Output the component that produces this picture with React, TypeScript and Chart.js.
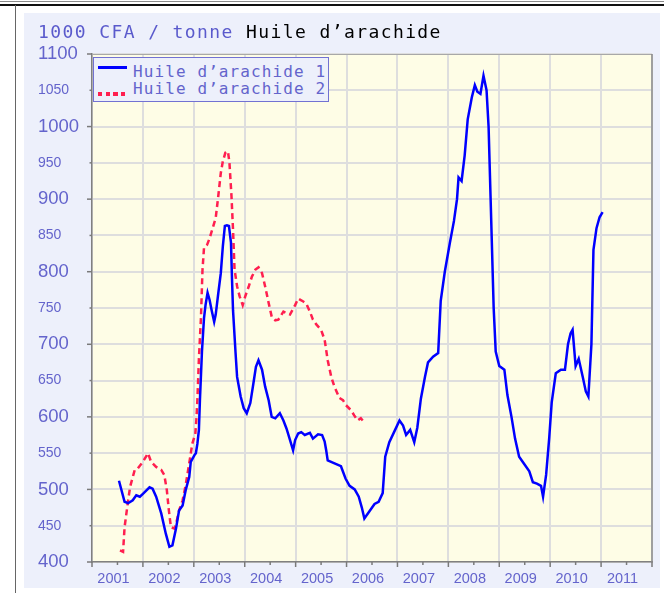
import React, { useEffect, useRef } from "react";
import { Chart, registerables } from "chart.js";

Chart.register(...registerables);

// ---------- data ----------
const seriesNames = ["Huile d’arachide 1", "Huile d’arachide 2"];
const yearLabels = [2001, 2002, 2003, 2004, 2005, 2006, 2007, 2008, 2009, 2010, 2011];
const yMin = 400;
const yMax = 1100;
const yStep = 50;

const blueDates = [
  2001.53, 2001.64, 2001.71, 2001.80, 2001.87, 2001.94, 2002.00, 2002.13, 2002.19, 2002.26,
  2002.36, 2002.45, 2002.52, 2002.58, 2002.65, 2002.71, 2002.78, 2002.84, 2002.91, 2002.94,
  2003.01, 2003.04, 2003.07, 2003.10, 2003.12, 2003.16, 2003.20, 2003.23, 2003.27, 2003.31,
  2003.35, 2003.40, 2003.43, 2003.48, 2003.53, 2003.57, 2003.61, 2003.65, 2003.69, 2003.73,
  2003.75, 2003.77, 2003.82, 2003.85, 2003.92, 2003.98, 2004.04, 2004.11, 2004.17, 2004.22,
  2004.27, 2004.34, 2004.40, 2004.47, 2004.53, 2004.60, 2004.69, 2004.76, 2004.82, 2004.89,
  2004.95, 2004.99, 2005.05, 2005.11, 2005.18, 2005.28, 2005.34, 2005.44, 2005.52, 2005.57,
  2005.60, 2005.63, 2005.73, 2005.89, 2005.98, 2006.06, 2006.16, 2006.24, 2006.30, 2006.35,
  2006.45, 2006.55, 2006.63, 2006.71, 2006.76, 2006.84, 2006.94, 2007.04, 2007.11, 2007.17,
  2007.25, 2007.33, 2007.39, 2007.46, 2007.54, 2007.60, 2007.70, 2007.80, 2007.85, 2007.93,
  2008.03, 2008.11, 2008.17, 2008.20, 2008.26, 2008.32, 2008.38, 2008.46, 2008.52, 2008.57,
  2008.63, 2008.69, 2008.75, 2008.79, 2008.83, 2008.89, 2008.93, 2009.00, 2009.10, 2009.16,
  2009.24, 2009.31, 2009.39, 2009.49, 2009.59, 2009.66, 2009.74, 2009.82, 2009.86, 2009.92,
  2009.98, 2010.03, 2010.11, 2010.21, 2010.29, 2010.35, 2010.40, 2010.44, 2010.50, 2010.56,
  2010.64, 2010.70, 2010.75, 2010.81, 2010.85, 2010.91, 2010.97, 2011.03,
];
const blueValues = [
  512, 483, 481, 485, 492, 490, 494, 503, 501, 490,
  467, 439, 421, 423, 446, 471, 478, 499, 517, 538,
  547, 550, 563, 582, 623, 690, 736, 754, 771, 761,
  747, 731, 741, 770, 798, 835, 863, 864, 863, 840,
  790, 747, 688, 655, 628, 612, 605, 619, 646, 669,
  678, 665, 642, 623, 600, 598, 605, 595, 584, 568,
  554, 568, 577, 579, 575, 578, 570, 576, 575, 566,
  554, 540, 537, 532, 515, 505, 500, 490, 475, 460,
  470, 480, 483, 495, 545, 565, 580, 595, 588, 575,
  582, 565, 585, 625, 655, 675, 683, 688, 760, 800,
  840, 870, 900, 930, 925, 960, 1010, 1040, 1057, 1048,
  1045, 1070, 1050, 1000, 900, 750, 690, 670, 665, 630,
  600, 570, 545, 535, 525, 510, 508, 505, 490, 520,
  570, 620, 660, 665, 665, 700, 715, 720, 670, 680,
  655, 635, 628, 700, 830, 860, 875, 882,
];

const redDates = [
  2001.55, 2001.61, 2001.64, 2001.71, 2001.75, 2001.84, 2001.90, 2002.00, 2002.10, 2002.16,
  2002.26, 2002.36, 2002.42, 2002.47, 2002.51, 2002.55, 2002.62, 2002.66, 2002.71, 2002.78,
  2002.84, 2002.91, 2002.97, 2003.03, 2003.05, 2003.07, 2003.10, 2003.14, 2003.17, 2003.20,
  2003.26, 2003.31, 2003.40, 2003.43, 2003.48, 2003.53, 2003.57, 2003.62, 2003.67, 2003.70,
  2003.74, 2003.77, 2003.80, 2003.85, 2003.90, 2003.96, 2004.01, 2004.08, 2004.14, 2004.21,
  2004.27, 2004.34, 2004.40, 2004.47, 2004.53, 2004.60, 2004.66, 2004.76, 2004.82, 2004.89,
  2004.99, 2005.05, 2005.15, 2005.21, 2005.28, 2005.34, 2005.41, 2005.50, 2005.57, 2005.63,
  2005.70, 2005.76, 2005.86, 2005.93, 2005.99, 2006.09, 2006.15, 2006.22, 2006.28, 2006.34,
];
const redValues = [
  416, 414, 448, 485, 504, 527, 529, 538, 550, 538,
  531, 527, 520, 499, 471, 448, 446, 455, 471, 485,
  506, 536, 563, 577, 596, 623, 680, 736, 802, 833,
  837, 846, 867, 874, 904, 936, 952, 964, 966, 950,
  904, 858, 803, 780, 766, 754, 766, 780, 793, 803,
  806, 798, 780, 757, 738, 733, 734, 745, 743, 741,
  754, 763, 759, 756, 745, 734, 727, 720, 706, 678,
  655, 642, 626, 623, 616, 609, 602, 595, 598, 593,
];

// ---------- styles ----------
const LABEL = "#6464cc";
const BLUE = "#0000ff";
const RED = "#ff1f4f";
const PANEL = "#edf0fb";
const PLOT_BG = "#fefde6";
const GRID = "#dedede";
const AXIS = "#808080";
const SANS = '"Liberation Sans", Arial, sans-serif';
const MONO = '"DejaVu Sans Mono", monospace';

const toPoints = (xs: number[], ys: number[]) => xs.map((x, i) => ({ x, y: ys[i] }));

const framePlugin = {
  id: "frame",
  beforeDraw(chart: any) {
    const { ctx, chartArea: a } = chart;
    ctx.save();
    ctx.fillStyle = PLOT_BG;
    ctx.fillRect(a.left, a.top, a.right - a.left, a.bottom - a.top);
    ctx.restore();
  },
  afterDraw(chart: any) {
    const { ctx, chartArea: a, scales } = chart;
    ctx.save();
    ctx.strokeStyle = "#a8a8a8";
    ctx.lineWidth = 1;
    ctx.beginPath();
    ctx.moveTo(a.left, a.top + 0.5);
    ctx.lineTo(a.right, a.top + 0.5);
    ctx.stroke();
    ctx.strokeStyle = "#8a8a8a";
    ctx.lineWidth = 1.5;
    ctx.beginPath();
    ctx.moveTo(a.right, a.top);
    ctx.lineTo(a.right, a.bottom);
    ctx.stroke();
    ctx.strokeStyle = "#7a7a7a";
    ctx.lineWidth = 1.5;
    for (const t of scales.y.ticks) {
      const p = scales.y.getPixelForValue(t.value);
      const len = t.value % 100 === 0 ? 5 : 2.5;
      ctx.beginPath();
      ctx.moveTo(a.left - len, p);
      ctx.lineTo(a.left, p);
      ctx.stroke();
    }
    for (const t of scales.x.ticks) {
      const p = scales.x.getPixelForValue(t.value);
      const len = Number.isInteger(t.value) ? 5 : 3;
      ctx.beginPath();
      ctx.moveTo(p, a.bottom);
      ctx.lineTo(p, a.bottom + len);
      ctx.stroke();
    }
    ctx.restore();
  },
};

function PriceChart() {
  const ref = useRef<HTMLCanvasElement | null>(null);
  useEffect(() => {
    if (!ref.current) return;
    const chart = new Chart(ref.current, {
      type: "line",
      data: {
        datasets: [
          {
            label: seriesNames[0],
            data: toPoints(blueDates, blueValues),
            borderColor: BLUE,
            borderWidth: 2.5,
            pointRadius: 0,
            fill: false,
            tension: 0,
          },
          {
            label: seriesNames[1],
            data: toPoints(redDates, redValues),
            borderColor: RED,
            borderWidth: 2.5,
            borderDash: [6, 4],
            pointRadius: 0,
            fill: false,
            tension: 0,
          },
        ],
      },
      options: {
        responsive: false,
        animation: false,
        events: [],
        layout: { padding: { left: 14, top: 41, right: 3, bottom: 0 } },
        plugins: { legend: { display: false }, tooltip: { enabled: false }, title: { display: false } },
        scales: {
          x: {
            type: "linear",
            min: yearLabels[0],
            max: yearLabels[yearLabels.length - 1] + 1,
            ticks: {
              stepSize: 0.5,
              autoSkip: false,
              maxRotation: 0,
              color: LABEL,
              font: { family: SANS, size: 14.5 },
              padding: 8,
              labelOffset: -4,
              callback: (v: any) => {
                const n = Number(v);
                if (Number.isInteger(n)) return "";
                const y = Math.floor(n);
                return yearLabels.includes(y) ? String(y) : "";
              },
            },
            grid: {
              color: (c: any) => (c.tick && Number.isInteger(c.tick.value) ? GRID : "rgba(0,0,0,0)"),
              lineWidth: 2,
              drawTicks: false,
            },
            border: { display: true, color: AXIS, width: 1.5 },
            afterFit: (s: any) => {
              s.height = 26;
            },
          },
          y: {
            min: yMin,
            max: yMax,
            ticks: {
              stepSize: yStep,
              color: LABEL,
              crossAlign: "far",
              padding: 0,
              callback: (v: any) => String(v),
              font: (c: any) => ({
                family: SANS,
                size: c.tick && c.tick.value % 100 === 0 ? 18.5 : 14,
              }),
            },
            grid: { color: GRID, lineWidth: 2, drawTicks: false },
            border: { display: true, color: AXIS, width: 1.5 },
            afterFit: (s: any) => {
              s.width = 54;
            },
          },
        },
      } as any,
      plugins: [framePlugin],
    });
    return () => chart.destroy();
  }, []);
  return <canvas ref={ref} width={636} height={575} style={{ position: "absolute", left: 0, top: 0, width: 636, height: 575 }} />;
}

export default function App() {
  return (
    <div style={{ position: "fixed", left: 0, top: 0, width: 664, height: 593, background: "#fff", overflow: "hidden" }}>
      <div style={{ position: "absolute", left: 0, top: 1, width: 664, height: 1, background: "#8a8a8a" }} />
      <div style={{ position: "absolute", left: 0, top: 4, width: 664, height: 1.5, background: "#111" }} />
      <div style={{ position: "absolute", left: 15, top: 5, width: 1.3, height: 588, background: "#666" }} />
      <div style={{ position: "absolute", left: 24, top: 13, width: 636, height: 575, background: PANEL }}>
        <PriceChart />
      </div>
      <div
        style={{
          position: "absolute",
          left: 38,
          top: 23,
          fontFamily: MONO,
          fontSize: 18,
          lineHeight: "18px",
          letterSpacing: "1.4px",
          whiteSpace: "nowrap",
        }}
      >
        <span style={{ color: "#5a5acc" }}>1000 CFA / tonne</span>{" "}
        <span style={{ color: "#000" }}>Huile d’arachide</span>
      </div>
      <div
        style={{
          position: "absolute",
          left: 93,
          top: 57,
          width: 236,
          height: 45,
          boxSizing: "border-box",
          border: "1px solid #7272d2",
          background: PANEL,
        }}
      >
        <div style={{ position: "absolute", left: 4, top: 8, width: 29, height: 3.4, background: BLUE }} />
        <div
          style={{
            position: "absolute",
            left: 4,
            top: 34,
            width: 28,
            height: 4,
            background: `repeating-linear-gradient(to right, ${RED} 0px, ${RED} 4.3px, transparent 4.3px, transparent 7.6px)`,
          }}
        />
        <div style={{ position: "absolute", left: 39, top: 6, fontFamily: MONO, fontSize: 16, lineHeight: "16px", letterSpacing: "1.1px", color: LABEL, whiteSpace: "nowrap" }}>
          {seriesNames[0]}
        </div>
        <div style={{ position: "absolute", left: 39, top: 22.5, fontFamily: MONO, fontSize: 16, lineHeight: "16px", letterSpacing: "1.1px", color: LABEL, whiteSpace: "nowrap" }}>
          {seriesNames[1]}
        </div>
      </div>
    </div>
  );
}
